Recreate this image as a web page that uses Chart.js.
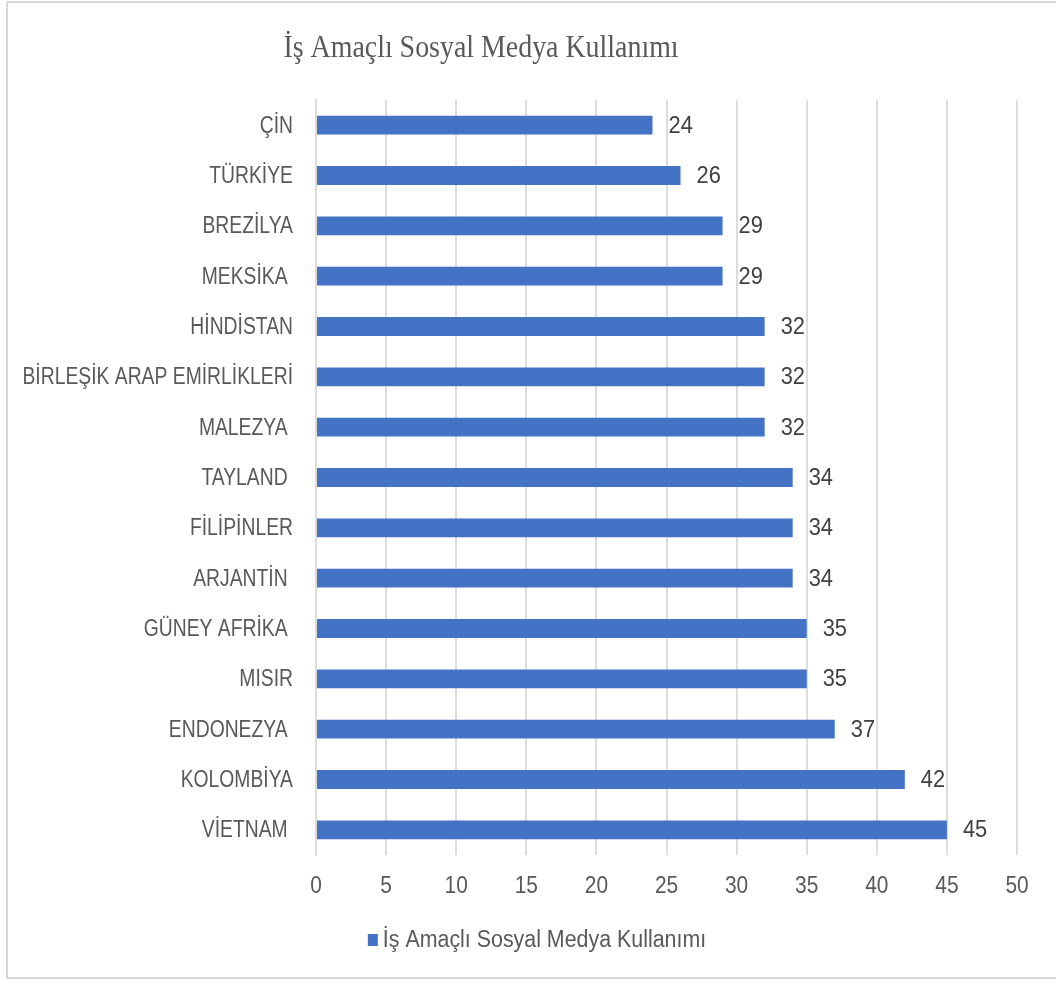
<!DOCTYPE html>
<html>
<head>
<meta charset="utf-8">
<script src="https://cdn.jsdelivr.net/npm/chart.js@4"></script>
<style>
  body { margin: 0; background: #fff; overflow: hidden; }
  .frame { position: absolute; left: 6px; top: 1px; width: 1100px; height: 974px; border: 2px solid #d9d9d9; }
  #chart { position: absolute; left: 0; top: 0; }
</style>
</head>
<body>
<div class="frame"></div>
<canvas id="chart" width="1056" height="981"></canvas>
<script>
const chartTitle = 'İş Amaçlı Sosyal Medya Kullanımı';
const seriesName = 'İş Amaçlı Sosyal Medya Kullanımı';
const countries = [
  'ÇİN', 'TÜRKİYE', 'BREZİLYA', 'MEKSİKA ', 'HİNDİSTAN',
  'BİRLEŞİK ARAP EMİRLİKLERİ', 'MALEZYA ', 'TAYLAND ', 'FİLİPİNLER', 'ARJANTİN ',
  'GÜNEY AFRİKA ', 'MISIR', 'ENDONEZYA ', 'KOLOMBİYA', 'VİETNAM '
];
const usage = [24, 26, 29, 29, 32, 32, 32, 34, 34, 34, 35, 35, 37, 42, 45];
const xMin = 0;
const xMax = 50;
const xStep = 5;

const sans = "'Liberation Sans', Arial, sans-serif";
const serif = "'Liberation Serif', 'Times New Roman', serif";
const barColor = '#4472c4';
const textColor = '#595959';
const gridColor = '#dcdcdc';

// text squeezed horizontally, like the narrow office-style labels
function squeezed(ctx, text, x, y, font, sx, align, color) {
  ctx.save();
  ctx.translate(x, y);
  ctx.scale(sx, 1);
  ctx.font = font;
  ctx.fillStyle = color;
  ctx.textAlign = align;
  ctx.textBaseline = 'middle';
  ctx.fillText(text, 0, 0);
  ctx.restore();
}

// title, category names, axis numbers and legend
const textPlugin = {
  id: 'squeezedText',
  afterDraw(chart) {
    const ctx = chart.ctx;
    const xs = chart.scales.x;
    const ys = chart.scales.y;

    squeezed(ctx, chartTitle, 481, 49, '31px ' + serif, 0.9, 'center', textColor);

    ys.ticks.forEach((t, i) => {
      squeezed(ctx, countries[i], ys.right - 23, ys.getPixelForTick(i) + 1,
        '23px ' + sans, 0.84, 'right', textColor);
    });

    xs.ticks.forEach(t => {
      squeezed(ctx, String(t.value), xs.getPixelForValue(t.value), 886,
        '24px ' + sans, 0.87, 'center', textColor);
    });

    const ds = chart.data.datasets[0];
    const legendScale = 0.93;
    ctx.font = '23px ' + sans;
    const textW = ctx.measureText(ds.label).width * legendScale;
    const boxW = 10, gap = 5;
    const left = 537 - (boxW + gap + textW) / 2;
    ctx.fillStyle = ds.backgroundColor;
    ctx.fillRect(left, 934, boxW, 12);
    squeezed(ctx, ds.label, left + boxW + gap, 941, '23px ' + sans, legendScale, 'left', textColor);
  }
};

// value printed just past the end of each bar
const valueLabels = {
  id: 'valueLabels',
  afterDatasetsDraw(chart) {
    const meta = chart.getDatasetMeta(0);
    meta.data.forEach((bar, i) => {
      squeezed(chart.ctx, String(usage[i]), bar.x + 16, bar.y + 1,
        '23px ' + sans, 0.95, 'left', '#404040');
    });
  }
};

const ctx = document.getElementById('chart').getContext('2d');
new Chart(ctx, {
  type: 'bar',
  data: {
    labels: countries,
    datasets: [{
      label: seriesName,
      data: usage,
      backgroundColor: barColor,
      borderWidth: 0,
      categoryPercentage: 1,
      barPercentage: 0.375
    }]
  },
  options: {
    indexAxis: 'y',
    responsive: false,
    animation: false,
    devicePixelRatio: 1,
    layout: {
      padding: { top: 100, left: 0, right: 39, bottom: 61 }
    },
    plugins: {
      title: { display: false },
      tooltip: { enabled: false },
      legend: { display: false }
    },
    scales: {
      x: {
        min: xMin,
        max: xMax,
        ticks: { stepSize: xStep, display: false },
        grid: { color: gridColor, lineWidth: 2, drawTicks: false },
        border: { display: false },
        afterFit(scale) { scale.height = 65; }
      },
      y: {
        ticks: { display: false },
        grid: { display: false, drawTicks: false },
        border: { display: true, color: gridColor, width: 2 },
        afterFit(scale) { scale.width = 316; }
      }
    }
  },
  plugins: [textPlugin, valueLabels]
});
</script>
</body>
</html>
